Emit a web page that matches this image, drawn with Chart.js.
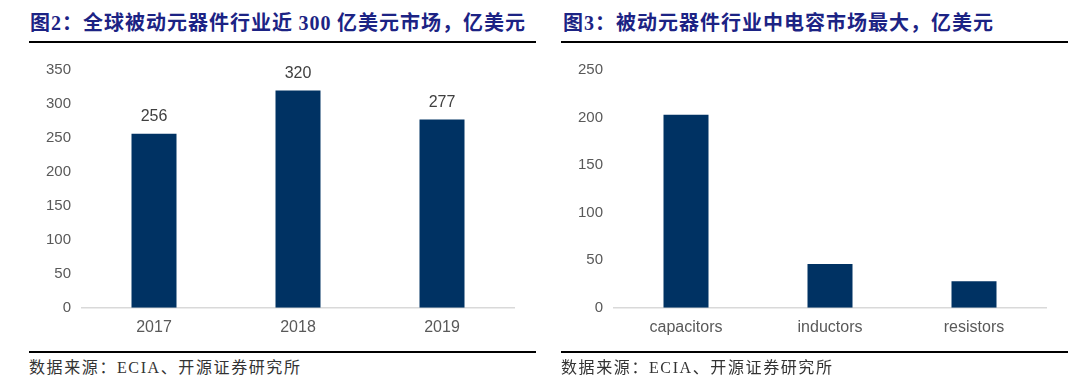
<!DOCTYPE html>
<html>
<head>
<meta charset="utf-8">
<script src="https://cdn.jsdelivr.net/npm/chart.js@4/dist/chart.umd.min.js"></script>
<style>
  html, body { margin: 0; padding: 0; background: #fff; }
  body { width: 1080px; height: 390px; position: relative; overflow: hidden; }
  .title {
    position: absolute; top: 8px; height: 28px; line-height: 28px;
    font-family: "Noto Sans CJK SC", "Liberation Serif", serif;
    font-weight: bold; font-size: 20px; letter-spacing: 1px; color: #1c2384; white-space: nowrap;
  }
  .title .num { font-family: "Liberation Serif", serif; }
  .rule { position: absolute; height: 2px; background: #000; }
  .rule.thin { height: 1.5px; }
  .note {
    position: absolute; top: 356px; height: 24px; line-height: 24px;
    font-family: "Liberation Serif", "Noto Sans CJK SC", serif;
    font-size: 16px; letter-spacing: 1.6px; color: #333; white-space: nowrap;
  }
  .box { position: absolute; top: 50px; width: 540px; height: 297px; }
</style>
</head>
<body>

<div class="title" style="left:30px;">图<span class="num">2</span>：全球被动元器件行业近 <span class="num">300</span> 亿美元市场，亿美元</div>
<div class="rule" style="left:29px; width:507px; top:41px;"></div>
<div class="title" style="left:563px;">图<span class="num">3</span>：被动元器件行业中电容市场最大，亿美元</div>
<div class="rule" style="left:561px; width:507px; top:41px;"></div>

<div class="box" style="left:0;"><canvas id="c1"></canvas></div>
<div class="box" style="left:532px;"><canvas id="c2"></canvas></div>

<div class="rule thin" style="left:29px; width:507px; top:351px;"></div>
<div class="rule thin" style="left:561px; width:507px; top:351px;"></div>
<div class="note" style="left:29px;">数据来源：ECIA、开源证券研究所</div>
<div class="note" style="left:561px;">数据来源：ECIA、开源证券研究所</div>

<script>
// 图2：全球被动元器件市场规模
const years       = ['2017', '2018', '2019'];
const marketSize  = [256, 320, 277];
const marketTicks = [0, 50, 100, 150, 200, 250, 300, 350];

// 图3：各类被动元器件市场规模
const parts      = ['capacitors', 'inductors', 'resistors'];
const partSize   = [203, 46, 28];
const partTicks  = [0, 50, 100, 150, 200, 250];

const BAR_COLOR = '#003263';
const AXIS_FONT = 'Liberation Sans, Arial, sans-serif';

// 柱顶数值标签
const valueLabels = {
  id: 'valueLabels',
  afterDatasetsDraw(chart, args, opts) {
    if (!opts.show) return;
    const ctx = chart.ctx;
    const meta = chart.getDatasetMeta(0);
    ctx.save();
    ctx.font = '16px ' + AXIS_FONT;
    ctx.fillStyle = '#404040';
    ctx.textAlign = 'center';
    ctx.textBaseline = 'middle';
    meta.data.forEach((bar, i) => {
      ctx.fillText(String(chart.data.datasets[0].data[i]), bar.x, bar.y - 17);
    });
    ctx.restore();
  }
};

function makeChart(id, labels, data, ticks, yAxisWidth, showLabels) {
  const max = ticks[ticks.length - 1];
  return new Chart(document.getElementById(id), {
    type: 'bar',
    data: {
      labels,
      datasets: [{
        data,
        backgroundColor: BAR_COLOR,
        barPercentage: 0.3125,
        categoryPercentage: 1
      }]
    },
    options: {
      responsive: true,
      maintainAspectRatio: false,
      animation: false,
      layout: { padding: { top: 13, right: 26, bottom: 0, left: 0 } },
      plugins: {
        legend: { display: false },
        tooltip: { enabled: false },
        valueLabels: { show: showLabels }
      },
      scales: {
        x: {
          offset: true,
          grid: { display: false, drawTicks: false },
          border: { display: true, color: '#d9d9d9', width: 1.5 },
          ticks: { color: '#595959', font: { family: AXIS_FONT, size: 16 }, padding: 10 }
        },
        y: {
          min: 0, max,
          afterBuildTicks: s => { s.ticks = ticks.map(v => ({ value: v })); },
          afterFit: s => { s.width = yAxisWidth; },
          grid: { display: false, drawTicks: false },
          border: { display: false },
          ticks: { color: '#595959', font: { family: AXIS_FONT, size: 15 }, padding: 11 }
        }
      }
    },
    plugins: [valueLabels]
  });
}

makeChart('c1', years, marketSize, marketTicks, 82, true);
makeChart('c2', parts, partSize, partTicks, 82, false);
</script>
</body>
</html>
